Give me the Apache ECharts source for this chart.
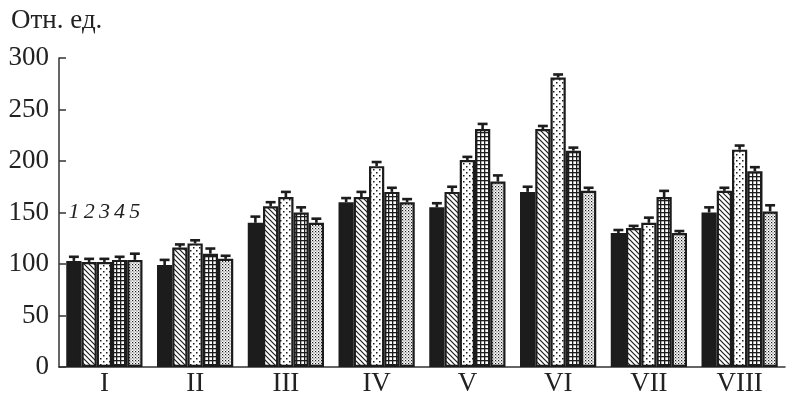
<!DOCTYPE html>
<html>
<head>
<meta charset="utf-8">
<script src="https://cdn.jsdelivr.net/npm/echarts@6/dist/echarts.min.js"></script>
<style>
  html, body { margin: 0; padding: 0; background: #fff; }
  #chart { width: 798px; height: 397px; }
</style>
</head>
<body>
<div id="chart"></div>
<script>
// Categories on the x axis
const categories = ['I', 'II', 'III', 'IV', 'V', 'VI', 'VII', 'VIII'];
const seriesNames = ['1', '2', '3', '4', '5'];

// Mean values per series (one value per category)
const values1 = [103, 99, 140, 160, 155, 170, 130, 150];
const values2 = [102, 116, 156, 165, 170, 231, 135, 171];
const values3 = [102, 120, 165, 195, 201, 281, 140, 211];
const values4 = [104, 110, 150, 170, 231, 210, 165, 190];
const values5 = [104, 105, 140, 160, 180, 171, 130, 151];

// Error (half-range) per series
const errors1 = [4, 5, 6, 4, 4, 5, 3, 5];
const errors2 = [3, 3, 4, 5, 5, 3, 2, 3];
const errors3 = [3, 3, 5, 4, 3, 3, 5, 4];
const errors4 = [3, 5, 5, 4, 5, 3, 6, 4];
const errors5 = [6, 3, 4, 3, 6, 3, 2, 6];

const yTicks = [0, 50, 100, 150, 200, 250, 300];

const allValues = [values1, values2, values3, values4, values5];
const allErrors = [errors1, errors2, errors3, errors4, errors5];

const INK = '#1c1c1c';
const TEXT = '#222';
const SERIF = '"Liberation Serif", "Times New Roman", serif';
const CAT_GAP = 0.16;

function tile(w, h, draw) {
  const c = document.createElement('canvas');
  c.width = w; c.height = h;
  const ctx = c.getContext('2d');
  ctx.fillStyle = '#fff';
  ctx.fillRect(0, 0, w, h);
  ctx.fillStyle = INK;
  ctx.strokeStyle = INK;
  draw(ctx);
  return { image: c, repeat: 'repeat' };
}

// Fills for the five series
const fills = [
  INK,
  tile(5, 5, ctx => {           // diagonal hatching "\"
    ctx.lineWidth = 1.2;
    ctx.beginPath();
    ctx.moveTo(-1, -1); ctx.lineTo(6, 6);
    ctx.moveTo(-1, 4); ctx.lineTo(1, 6);
    ctx.moveTo(4, -1); ctx.lineTo(6, 1);
    ctx.stroke();
  }),
  tile(6, 6, ctx => {           // sparse dots
    ctx.fillRect(1, 1, 1.5, 1.5);
    ctx.fillRect(4, 4, 1.5, 1.5);
  }),
  tile(4.5, 4.5, ctx => {       // square grid
    ctx.fillRect(0, 0, 4.5, 1.3);
    ctx.fillRect(0, 0, 1.3, 4.5);
  }),
  tile(3, 3, ctx => {           // dense stipple
    ctx.fillRect(0, 0, 1.2, 1.2);
    ctx.fillRect(1.5, 1.5, 1.0, 1.0);
  })
];

const barSeries = allValues.map((vals, i) => ({
  name: seriesNames[i],
  type: 'bar',
  data: vals,
  barGap: '0%',
  barCategoryGap: (CAT_GAP * 100) + '%',
  itemStyle: { color: fills[i], borderColor: INK, borderWidth: 2.2 },
  silent: true,
  z: 2
}));

// Error bars with caps, plus series numbers above the first group
const errorSeries = allValues.map((vals, i) => ({
  type: 'custom',
  data: vals.map((v, k) => [k, v, allErrors[i][k]]),
  z: 5,
  silent: true,
  renderItem: function (params, api) {
    const k = api.value(0);
    const v = api.value(1);
    const e = api.value(2);
    const band = api.size([1, 0])[0];
    const groupW = band * (1 - CAT_GAP);
    const barW = groupW / 5;
    const c = api.coord([k, v]);
    const x = c[0] - groupW / 2 + barW * (i + 0.5);
    const yTop = api.coord([k, v + e])[1];
    const yBase = c[1];
    const cap = barW * 0.65;
    const children = [
      { type: 'line', shape: { x1: x, y1: yBase, x2: x, y2: yTop },
        style: { stroke: INK, lineWidth: 2.6 } },
      { type: 'line', shape: { x1: x - cap / 2, y1: yTop, x2: x + cap / 2, y2: yTop },
        style: { stroke: INK, lineWidth: 2.6 } }
    ];
    if (k === 0) {
      const ly = api.coord([0, 150])[1];
      children.push({
        type: 'text',
        style: {
          x: x, y: ly, text: seriesNames[i],
          fill: TEXT, font: 'italic 22px ' + SERIF,
          align: 'center', verticalAlign: 'middle'
        }
      });
    }
    return { type: 'group', children: children };
  }
}));

const chart = echarts.init(document.getElementById('chart'), null, { renderer: 'canvas' });
chart.setOption({
  animation: false,
  backgroundColor: '#fff',
  textStyle: { fontFamily: SERIF },
  title: {
    text: 'Отн. ед.',
    left: 6, top: 2,
    textStyle: { fontFamily: SERIF, fontSize: 27, fontWeight: 'normal', color: TEXT }
  },
  grid: { left: 59, right: 13, top: 58, bottom: 30 },
  xAxis: {
    type: 'category',
    data: categories,
    axisLine: { lineStyle: { color: '#333', width: 1.5 } },
    axisTick: { show: false },
    axisLabel: { color: TEXT, fontSize: 27, margin: 3, fontFamily: SERIF }
  },
  yAxis: {
    type: 'value',
    min: yTicks[0],
    max: yTicks[yTicks.length - 1],
    interval: 50,
    axisLine: { show: true, lineStyle: { color: '#333', width: 1.5 } },
    axisTick: { show: true, inside: true, length: 7, lineStyle: { color: '#333', width: 1.5 } },
    splitLine: { show: false },
    axisLabel: { color: TEXT, fontSize: 27, margin: 10, fontFamily: SERIF }
  },
  series: barSeries.concat(errorSeries)
});
</script>
</body>
</html>
